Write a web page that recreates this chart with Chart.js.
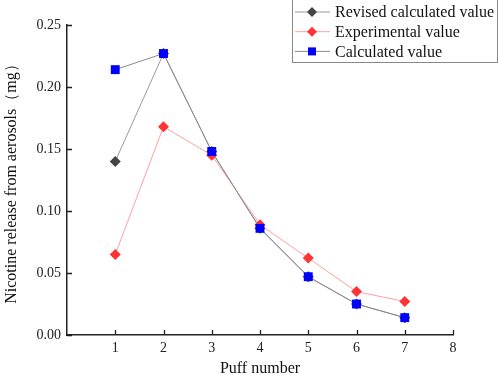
<!DOCTYPE html>
<html>
<head>
<meta charset="utf-8">
<script src="https://cdn.jsdelivr.net/npm/chart.js@4/dist/chart.umd.min.js"></script>
<style>
html,body{margin:0;padding:0;background:#fff;}
#wrap{width:498px;height:375px;position:relative;}
</style>
</head>
<body>
<div id="wrap"><canvas id="c" width="498" height="375"></canvas></div>
<script>
const puffs = [1, 2, 3, 4, 5, 6, 7];
const revisedValues = [0.140, 0.227, 0.148, 0.086, 0.047, 0.025, 0.014];
const experimentalValues = [0.065, 0.168, 0.145, 0.089, 0.062, 0.035, 0.027];
const calculatedValues = [0.214, 0.227, 0.148, 0.086, 0.047, 0.025, 0.014];
const xTickValues = [1, 2, 3, 4, 5, 6, 7, 8];
const yTickValues = [0, 0.05, 0.10, 0.15, 0.20, 0.25];
const seriesNames = ['Revised calculated value', 'Experimental value', 'Calculated value'];

const toPts = vals => puffs.map((p, i) => ({x: p, y: vals[i]}));
const FONT = '"Liberation Serif", "Times New Roman", serif';

const inwardTicks = {
  id: 'inwardTicks',
  afterDraw(chart) {
    const ctx = chart.ctx, a = chart.chartArea;
    const xs = chart.scales.x, ys = chart.scales.y;
    ctx.save();
    ctx.strokeStyle = '#222';
    ctx.lineWidth = 1.3;
    ctx.beginPath();
    xTickValues.forEach(v => {
      const px = Math.round(xs.getPixelForValue(v)) + 0.5;
      ctx.moveTo(px, a.bottom); ctx.lineTo(px, a.bottom - 5);
    });
    yTickValues.forEach(v => {
      const py = Math.round(ys.getPixelForValue(v)) + 0.5;
      ctx.moveTo(a.left, py); ctx.lineTo(a.left + 5, py);
    });
    ctx.stroke();
    ctx.restore();
  }
};

const boxLegend = {
  id: 'boxLegend',
  afterDraw(chart) {
    const ctx = chart.ctx;
    const ds = chart.data.datasets;
    const bx = 292, by = -1, bw = 205, bh = 63;
    ctx.save();
    ctx.fillStyle = '#fff';
    ctx.fillRect(bx, by, bw, bh);
    ctx.strokeStyle = '#888';
    ctx.lineWidth = 1;
    ctx.strokeRect(bx + 0.5, by + 0.5, bw, bh);
    ctx.font = '16px ' + FONT;
    ctx.textBaseline = 'middle';
    [0, 1, 2].forEach((di, row) => {
      const d = ds[di];
      const y = 12 + row * 19.7;
      ctx.strokeStyle = d.borderColor;
      ctx.lineWidth = 1;
      ctx.beginPath();
      ctx.moveTo(295, y); ctx.lineTo(330, y);
      ctx.stroke();
      ctx.fillStyle = d.pointBackgroundColor;
      ctx.beginPath();
      if (d.pointStyle === 'rect') {
        ctx.rect(312 - 4, y - 4, 8, 8);
      } else {
        ctx.moveTo(312, y - 5); ctx.lineTo(317, y); ctx.lineTo(312, y + 5); ctx.lineTo(307, y); ctx.closePath();
      }
      ctx.fill();
      ctx.fillStyle = '#111';
      ctx.fillText(seriesNames[di], 335, y + 1);
    });
    ctx.restore();
  }
};

new Chart(document.getElementById('c'), {
  type: 'scatter',
  data: {
    datasets: [
      {
        label: seriesNames[0],
        data: toPts(revisedValues),
        showLine: true,
        borderColor: '#9a9a9a',
        borderWidth: 1,
        pointStyle: 'rectRot',
        pointRadius: 5.5,
        pointHoverRadius: 5.5,
        pointBackgroundColor: '#444444',
        pointBorderWidth: 0,
        order: 3
      },
      {
        label: seriesNames[1],
        data: toPts(experimentalValues),
        showLine: true,
        borderColor: '#ffa0a0',
        borderWidth: 1,
        pointStyle: 'rectRot',
        pointRadius: 5.5,
        pointHoverRadius: 5.5,
        pointBackgroundColor: '#ff3333',
        pointBorderWidth: 0,
        order: 2
      },
      {
        label: seriesNames[2],
        data: toPts(calculatedValues),
        showLine: true,
        borderColor: '#8a8a8a',
        borderWidth: 1,
        pointStyle: 'rect',
        pointRadius: 6.3,
        pointHoverRadius: 6.3,
        pointBackgroundColor: '#0000ff',
        pointBorderWidth: 0,
        order: 1
      }
    ]
  },
  options: {
    responsive: false,
    animation: false,
    devicePixelRatio: 1,
    layout: {padding: {left: 0, right: 45, top: 25, bottom: 0}},
    plugins: {legend: {display: false}, tooltip: {enabled: false}},
    scales: {
      x: {
        type: 'linear',
        min: 0, max: 8,
        afterBuildTicks: s => { s.ticks = xTickValues.map(v => ({value: v})); },
        afterFit: s => { s.height = 40; },
        grid: {display: true, drawOnChartArea: false, drawTicks: false},
        border: {display: true, color: '#222', width: 1.5},
        ticks: {color: '#222', font: {family: FONT, size: 14}, padding: 5, maxRotation: 0},
        title: {display: true, text: 'Puff number', color: '#111', font: {family: FONT, size: 16}, padding: {top: 0, bottom: -3}}
      },
      y: {
        type: 'linear',
        min: 0, max: 0.25,
        afterBuildTicks: s => { s.ticks = yTickValues.map(v => ({value: v})); },
        afterFit: s => { s.width = 67; },
        grid: {display: true, drawOnChartArea: false, drawTicks: false},
        border: {display: true, color: '#222', width: 1.5},
        ticks: {color: '#222', font: {family: FONT, size: 14}, padding: 6, callback: v => v.toFixed(2)},
        title: {display: true, text: 'Nicotine release from aerosols（mg）', color: '#111', font: {family: FONT, size: 16}, padding: {top: 2, bottom: 0}}
      }
    }
  },
  plugins: [inwardTicks, boxLegend]
});
</script>
</body>
</html>
